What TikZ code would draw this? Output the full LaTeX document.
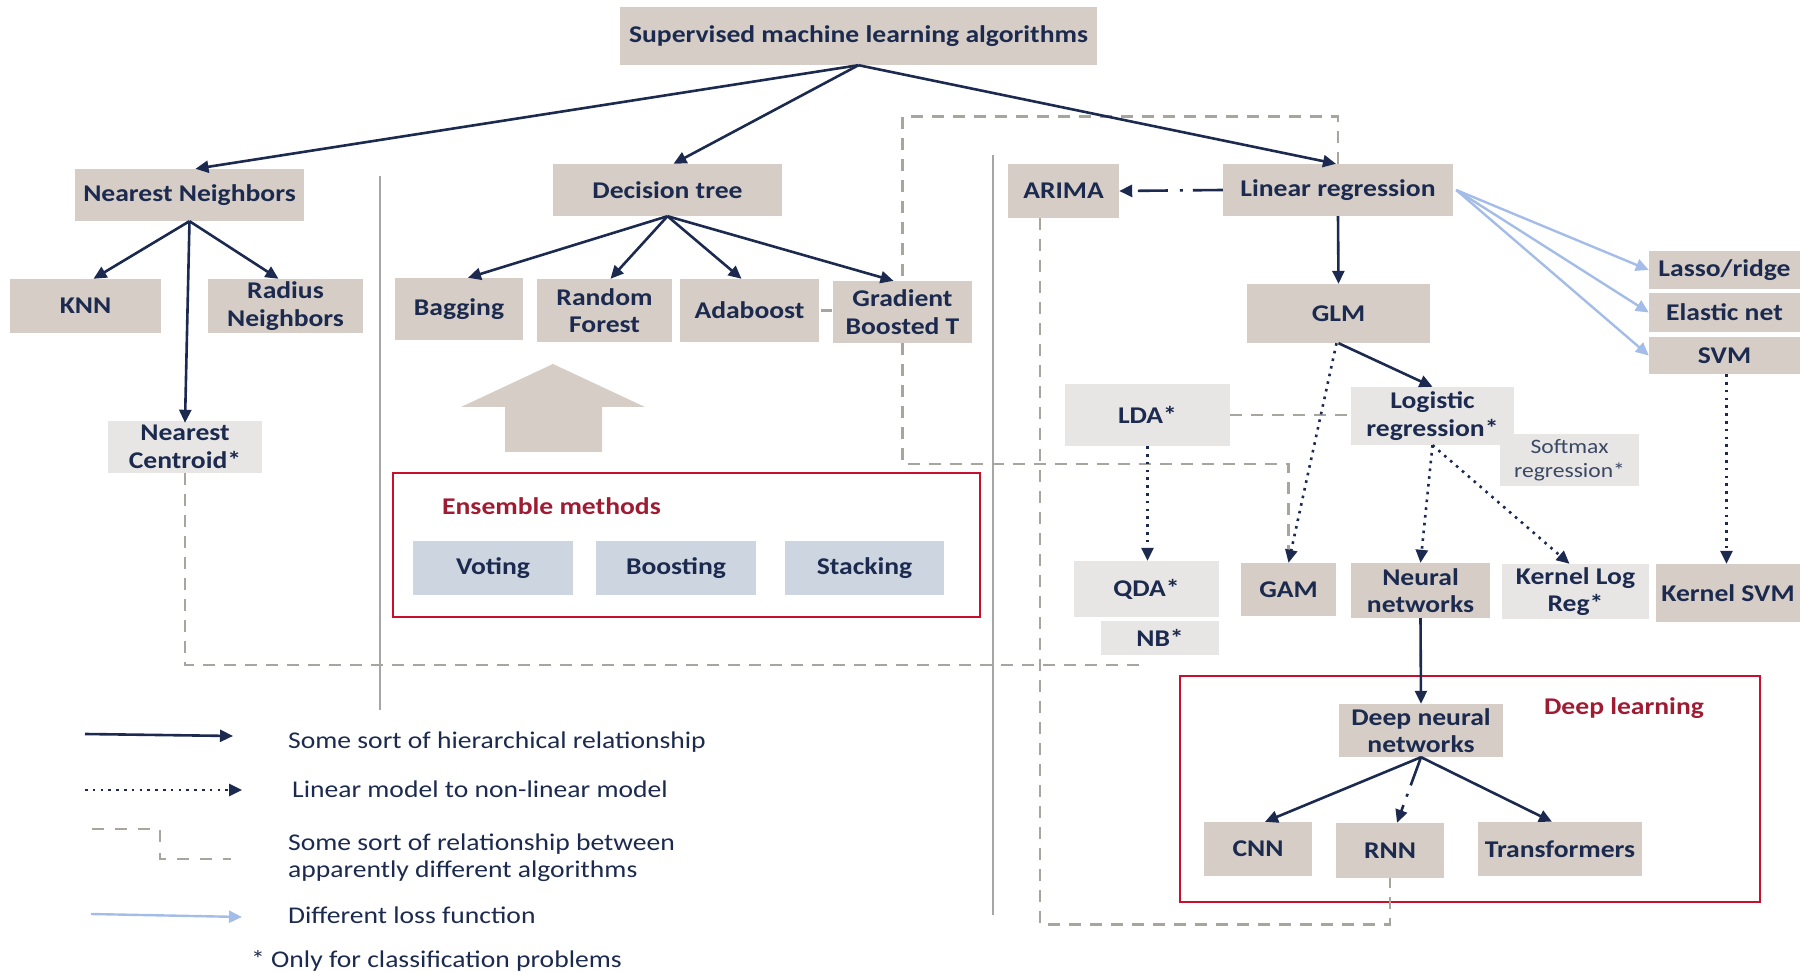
\documentclass[tikz,border=0pt]{standalone}
\usepackage{fontspec}
\setmainfont{Carlito}[FakeStretch=1.15]
\usetikzlibrary{arrows.meta}
\definecolor{navy}{HTML}{1B2A4E}
\definecolor{beigec}{HTML}{D5CDC6}
\definecolor{palec}{HTML}{E8E6E5}
\definecolor{ensc}{HTML}{CDD5E0}
\definecolor{dashc}{HTML}{A8A49E}
\definecolor{lossc}{HTML}{A4BDE8}
\definecolor{framec}{HTML}{C8102E}
\definecolor{labelred}{HTML}{9E1B32}
\definecolor{sepc}{HTML}{A6A6A6}
\definecolor{softc}{HTML}{3A4863}
\begin{document}
\begin{tikzpicture}[x=1pt,y=-1pt,
  box/.style={rectangle, inner sep=0pt, align=center, text=navy,
    font=\bfseries\fontsize{24}{27.5}\selectfont},
  beige/.style={box, fill=beigec},
  pale/.style={box, fill=palec},
  ensbox/.style={box, fill=ensc},
  sz/.style 2 args={minimum width=#1, minimum height=#2},
  tip/.style={-{Triangle[length=13pt,width=12pt]}},
  hier/.style={draw=navy, line width=2.6pt, tip},
  dotarr/.style={draw=navy, line width=2.6pt, dash pattern=on 2.6pt off 5.2pt, tip},
  dashdot/.style={draw=navy, line width=2.6pt, tip},
  relate/.style={draw=dashc, line width=2.6pt, dash pattern=on 12pt off 9pt},
  loss/.style={draw=lossc, line width=2.4pt, tip},
  frame/.style={draw=framec, line width=2.6pt, rectangle, inner sep=0pt},
  framelabel/.style={text=labelred, font=\bfseries\fontsize{24}{27.5}\selectfont},
  legtext/.style={anchor=base west, inner sep=0pt, align=left, text=navy,
    font=\fontsize{24}{27}\selectfont},
  sep/.style={draw=sepc, line width=1.5pt}
]
\useasboundingbox (0,0) rectangle (1800,973);

% group frames
\node[frame, sz={587}{144}] (ensframe) at (686.5,545) {};
\node[frame, sz={580}{226}] (dlframe) at (1470,789) {};

% column separators
\draw[sep] (380,176) -- (380,710);
\draw[sep] (993,155) -- (993,915);

% root
\node[beige, sz={477}{58}] (top) at (858.5,36) {Supervised machine learning algorithms};

% nearest neighbours family
\node[beige, sz={229}{52}] (nn) at (189.5,195) {Nearest Neighbors};
\node[beige, sz={151}{54}] (knn) at (85.5,306) {KNN};
\node[beige, sz={155}{54}] (radius) at (285.5,306) {Radius\\Neighbors};
\node[pale, sz={154}{52}] (ncent) at (185,447) {Nearest\\Centroid*};

% tree family
\node[beige, sz={229}{52}] (dt) at (667.5,190) {Decision tree};
\node[beige, sz={128}{62}] (bagging) at (459,309) {Bagging};
\node[beige, sz={135}{63}] (rf) at (604.5,310.5) {Random\\Forest};
\node[beige, sz={139}{63}] (ada) at (749.5,310.5) {Adaboost};
\node[beige, sz={139}{62}] (gbt) at (902.5,312) {Gradient\\Boosted T};

% block arrow pointing to the ensembles
\fill[beigec] (553,364) -- (645,407) -- (602,407) -- (602,452) -- (505,452)
  -- (505,407) -- (461,407) -- cycle;

\node[framelabel, anchor=west, inner sep=0pt] (enslabel) at (442,506) {Ensemble methods};
\node[ensbox, sz={160}{54}] (voting) at (493,568) {Voting};
\node[ensbox, sz={160}{54}] (boosting) at (676,568) {Boosting};
\node[ensbox, sz={159}{54}] (stacking) at (864.5,568) {Stacking};

% linear family
\node[beige, sz={230}{52}] (linreg) at (1338,190) {Linear regression};
\node[beige, sz={111}{54}] (arima) at (1063.5,191) {ARIMA};
\node[beige, sz={183}{59}] (glm) at (1338.5,313.5) {GLM};
\node[beige, sz={151}{38}] (lasso) at (1724.5,270) {Lasso/ridge};
\node[beige, sz={151}{39}] (elastic) at (1724.5,312.5) {Elastic net};
\node[beige, sz={151}{37}] (svm) at (1724.5,355.5) {SVM};
\node[pale, sz={165}{62}] (lda) at (1147.5,415) {LDA*};
\node[pale, sz={163}{58}] (logistic) at (1432.5,416) {Logistic\\regression*};
\node[pale, sz={139}{52}, text=softc, font=\fontsize{20.5}{24.5}\selectfont] (softmax) at (1569.5,460) {Softmax\\regression*};
\node[pale, sz={145}{56}] (qda) at (1146.5,589) {QDA*};
\node[pale, sz={118}{34}] (nb) at (1160,638) {NB*};
\node[beige, sz={95}{53}] (gam) at (1288.5,589.5) {GAM};
\node[beige, sz={139}{55}] (neural) at (1420.5,590.5) {Neural\\networks};
\node[pale, sz={147}{55}] (klr) at (1575.5,591.5) {Kernel Log\\Reg*};
\node[beige, sz={144}{58}] (ksvm) at (1728,593) {Kernel SVM};

% deep learning
\node[framelabel] (dllabel) at (1624,708) {Deep learning};
\node[beige, sz={164}{53}] (dnn) at (1421,730.5) {Deep neural\\networks};
\node[beige, sz={108}{54}] (cnn) at (1258,849) {CNN};
\node[beige, sz={108}{55}] (rnn) at (1390,850.5) {RNN};
\node[beige, sz={164}{54}] (trans) at (1560,849) {Transformers};

% relations between apparently different algorithms
\coordinate (nbfoot) at (1147,665);
\draw[relate] (linreg.north) -- ++(0,-47) -| (gbt.north);
\draw[relate] (gbt.south) -- ++(0,121) -| (gam.north);
\draw[dashc, line width=2.6pt, shorten <=2pt, shorten >=1pt] (ada.east) -- (ada.east -| gbt.west);
\draw[relate] (ncent.south) |- (nbfoot);
\draw[relate] ([xshift=-23.5pt]arima.south) -- ++(0,706) -| (rnn.south);
\draw[relate] (lda.east) -- (lda.east -| logistic.west);

% hierarchy
\draw[hier] (top.south) -- ([xshift=6pt]nn.north);
\draw[hier] (top.south) -- ([xshift=6pt]dt.north);
\draw[hier] (top.south) -- ([xshift=-2pt]linreg.north);
\draw[hier] (nn.south) -- ([xshift=8pt]knn.north);
\draw[hier] (nn.south) -- ([xshift=-7pt]radius.north);
\draw[hier] (nn.south) -- ([yshift=-2pt]ncent.north);
\draw[hier] (dt.south) -- ([xshift=9pt]bagging.north);
\draw[hier] (dt.south) -- ([xshift=6pt]rf.north);
\draw[hier] (dt.south) -- ([xshift=-8pt]ada.north);
\draw[hier] (dt.south) -- ([xshift=-9pt]gbt.north);
\draw[hier] (linreg.south) -- (glm.north);
\draw[hier] (glm.south) -- (logistic.north);
\draw[hier] (neural.south) -- (dnn.north);
\draw[hier] (dnn.south) -- ([xshift=7pt]cnn.north);
\draw[hier] (dnn.south) -- ([xshift=-8pt]trans.north);
\draw[dashdot, dash pattern=on 30pt off 10pt on 3pt off 12pt] (linreg.west) -- (arima.east);
\draw[dashdot, dash pattern=on 30pt off 9pt on 3pt off 9pt] (dnn.south) -- ([xshift=7pt]rnn.north);

% linear to non-linear
\draw[dotarr] ([xshift=-2pt]glm.south) -- (gam.north);
\draw[dotarr] (logistic.south) -- (neural.north);
\draw[dotarr] (logistic.south) -- ([xshift=-6pt]klr.north);
\draw[dotarr] (lda.south) -- (lda.south |- qda.north);
\draw[dotarr] ([xshift=2pt]svm.south) -- ([xshift=2pt]svm.south |- ksvm.north);

% different loss functions
\draw[loss] ([xshift=3pt]linreg.east) -- (lasso.west);
\draw[loss] ([xshift=3pt]linreg.east) -- (elastic.west);
\draw[loss] ([xshift=3pt]linreg.east) -- (svm.west);

% legend
\coordinate (la1) at (85,734);
\coordinate (lb1) at (233,736);
\coordinate (la2) at (85,790);
\coordinate (lb2) at (242,790);
\coordinate (la3) at (92,829);
\coordinate (lm3) at (160,859);
\coordinate (lb3) at (231,859);
\coordinate (la4) at (91,914);
\coordinate (lb4) at (242,917);
\draw[hier] (la1) -- (lb1);
\draw[dotarr] (la2) -- (lb2);
\draw[relate, dash pattern=on 12pt off 11pt] (la3) -| (lm3) -- (lb3);
\draw[loss] (la4) -- (lb4);
\node[legtext] (t1) at (288,748) {Some sort of hierarchical relationship};
\node[legtext] (t2) at (292,797) {Linear model to non-linear model};
\node[legtext] (t3) at (288,877) {Some sort of relationship between\\apparently different algorithms};
\node[legtext] (t4) at (288,923) {Different loss function};
\node[legtext] (t5) at (251,967) {* Only for classification problems};
\end{tikzpicture}
\end{document}
